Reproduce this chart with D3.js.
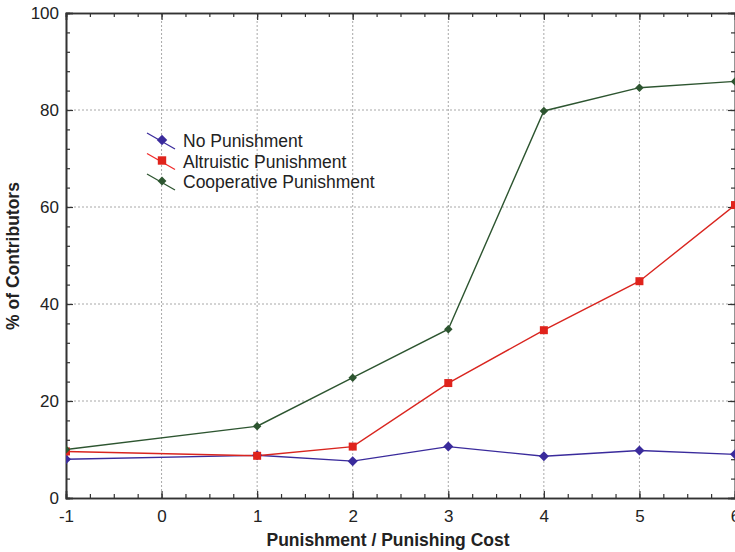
<!DOCTYPE html>
<html>
<head>
<meta charset="utf-8">
<script src="https://cdn.jsdelivr.net/npm/d3@7"></script>
<style>
  html, body { margin: 0; padding: 0; background: #fff; }
  svg { display: block; font-family: "Liberation Sans", Arial, Helvetica, sans-serif; }
</style>
</head>
<body>
<svg id="chart" width="735" height="552"></svg>
<script>
// Share of contributors by punishment / punishing-cost level
const xValues = [-1, 1, 2, 3, 4, 5, 6];
const noPunishment = [8.0, 8.8, 7.6, 10.6, 8.6, 9.8, 9.0];
const altruisticPunishment = [9.6, 8.7, 10.6, 23.7, 34.6, 44.7, 60.4];
const cooperativePunishment = [10.0, 14.8, 24.8, 34.8, 79.8, 84.6, 85.9];

const xTicks = [-1, 0, 1, 2, 3, 4, 5, 6];
const yTicks = [0, 20, 40, 60, 80, 100];
const seriesNames = ["No Punishment", "Altruistic Punishment", "Cooperative Punishment"];

const series = [
  { name: seriesNames[0], values: noPunishment, color: "#3a2b9c", legendColor: "#3a2b9c", shape: "diamond", size: 9 },
  { name: seriesNames[1], values: altruisticPunishment, color: "#d9251f", legendColor: "#f02a2a", shape: "square", size: 8 },
  { name: seriesNames[2], values: cooperativePunishment, color: "#2d5530", legendColor: "#2d5530", shape: "diamond", size: 7.5 }
];

const svg = d3.select("#chart");
const mLeft = 66, mRight = 735, mTop = 13, mBottom = 498;

const x = d3.scaleLinear().domain([-1, 6]).range([mLeft, mRight]);
const y = d3.scaleLinear().domain([0, 100]).range([mBottom, mTop]);

// plain hyphen for negative tick labels
const intLabel = v => String(v);

// dotted grid at major ticks
const grid = svg.append("g").attr("stroke", "#a8a8a8").attr("stroke-width", 1).attr("stroke-dasharray", "2,2");
xTicks.filter(v => v > -1 && v < 6).forEach(v => {
  grid.append("line").attr("x1", x(v)).attr("x2", x(v)).attr("y1", mTop).attr("y2", mBottom);
});
yTicks.filter(v => v > 0 && v < 100).forEach(v => {
  grid.append("line").attr("x1", mLeft).attr("x2", mRight).attr("y1", y(v)).attr("y2", y(v));
});

// frame axes with inward ticks
const minorX = d3.range(-1, 6.001, 0.25);
const minorY = d3.range(0, 100.001, 4);
const axisColor = "#333";

function styleAxis(g) {
  g.select(".domain").attr("stroke", axisColor).attr("stroke-width", 1.6);
  g.selectAll(".tick line").attr("stroke", axisColor).attr("stroke-width", 1.2);
}

// minor ticks (no labels)
svg.append("g").attr("transform", `translate(0,${mBottom})`)
  .call(d3.axisBottom(x).tickValues(minorX).tickSize(-4).tickFormat(""))
  .call(styleAxis);
svg.append("g").attr("transform", `translate(0,${mTop})`)
  .call(d3.axisTop(x).tickValues(minorX).tickSize(-4).tickFormat(""))
  .call(styleAxis);
svg.append("g").attr("transform", `translate(${mLeft},0)`)
  .call(d3.axisLeft(y).tickValues(minorY).tickSize(-4).tickFormat(""))
  .call(styleAxis);
svg.append("g").attr("transform", `translate(${mRight},0)`)
  .call(d3.axisRight(y).tickValues(minorY).tickSize(-4).tickFormat(""))
  .call(styleAxis);

// major ticks with labels
const xAxis = svg.append("g").attr("transform", `translate(0,${mBottom})`)
  .call(d3.axisBottom(x).tickValues(xTicks).tickSize(-7).tickPadding(12).tickFormat(intLabel))
  .call(styleAxis);
xAxis.selectAll(".tick text").attr("font-size", 17).attr("fill", "#222").attr("font-family", "Liberation Sans, Arial, sans-serif");

const yAxis = svg.append("g").attr("transform", `translate(${mLeft},0)`)
  .call(d3.axisLeft(y).tickValues(yTicks).tickSize(-7).tickPadding(7).tickFormat(intLabel))
  .call(styleAxis);
yAxis.selectAll(".tick text").attr("font-size", 17).attr("fill", "#222").attr("font-family", "Liberation Sans, Arial, sans-serif");

svg.append("g").attr("transform", `translate(0,${mTop})`)
  .call(d3.axisTop(x).tickValues(xTicks).tickSize(-7).tickFormat(""))
  .call(styleAxis);
svg.append("g").attr("transform", `translate(${mRight},0)`)
  .call(d3.axisRight(y).tickValues(yTicks).tickSize(-7).tickFormat(""))
  .call(styleAxis);

// axis titles
svg.append("text")
  .attr("x", 388).attr("y", 546)
  .attr("text-anchor", "middle")
  .attr("font-size", 17.5).attr("font-weight", "bold").attr("fill", "#222")
  .text("Punishment / Punishing Cost");
svg.append("text")
  .attr("transform", "translate(19,256) rotate(-90)")
  .attr("text-anchor", "middle")
  .attr("font-size", 17.5).attr("font-weight", "bold").attr("fill", "#222")
  .text("% of Contributors");

// plot area clip
svg.append("clipPath").attr("id", "plotClip")
  .append("rect").attr("x", mLeft).attr("y", mTop).attr("width", mRight - mLeft).attr("height", mBottom - mTop);

const plot = svg.append("g").attr("clip-path", "url(#plotClip)");
const line = d3.line().x((d, i) => x(xValues[i])).y(d => y(d));

function markerPath(s, k = 1) {
  if (s.shape === "square") {
    const h = s.size * k / 2;
    return `M${-h},${-h}H${h}V${h}H${-h}Z`;
  }
  const r = s.size * k / 2 + 0.5;
  return `M0,${-r}L${r},0L0,${r}L${-r},0Z`;
}

series.forEach(s => {
  plot.append("path")
    .datum(s.values)
    .attr("fill", "none")
    .attr("stroke", s.color)
    .attr("stroke-width", 1.4)
    .attr("d", line);
});
series.forEach(s => {
  plot.selectAll(null)
    .data(s.values)
    .join("path")
    .attr("transform", (d, i) => `translate(${x(xValues[i])},${y(d)})`)
    .attr("d", markerPath(s))
    .attr("fill", s.shape === "square" ? "#e0231c" : s.color);
});

// legend
const legend = svg.append("g").attr("transform", "translate(162,140)");
series.forEach((s, i) => {
  const g = legend.append("g").attr("transform", `translate(0,${i * 20.5})`);
  g.append("line")
    .attr("x1", -15).attr("y1", -7).attr("x2", 13).attr("y2", 9)
    .attr("stroke", s.legendColor).attr("stroke-width", 1.2);
  g.append("path").attr("d", markerPath(s, 1.05)).attr("fill", s.shape === "square" ? "#e0231c" : s.color);
  g.append("text")
    .attr("x", 21).attr("y", 7)
    .attr("font-size", 17.5).attr("fill", "#222")
    .text(s.name);
});
</script>
</body>
</html>
